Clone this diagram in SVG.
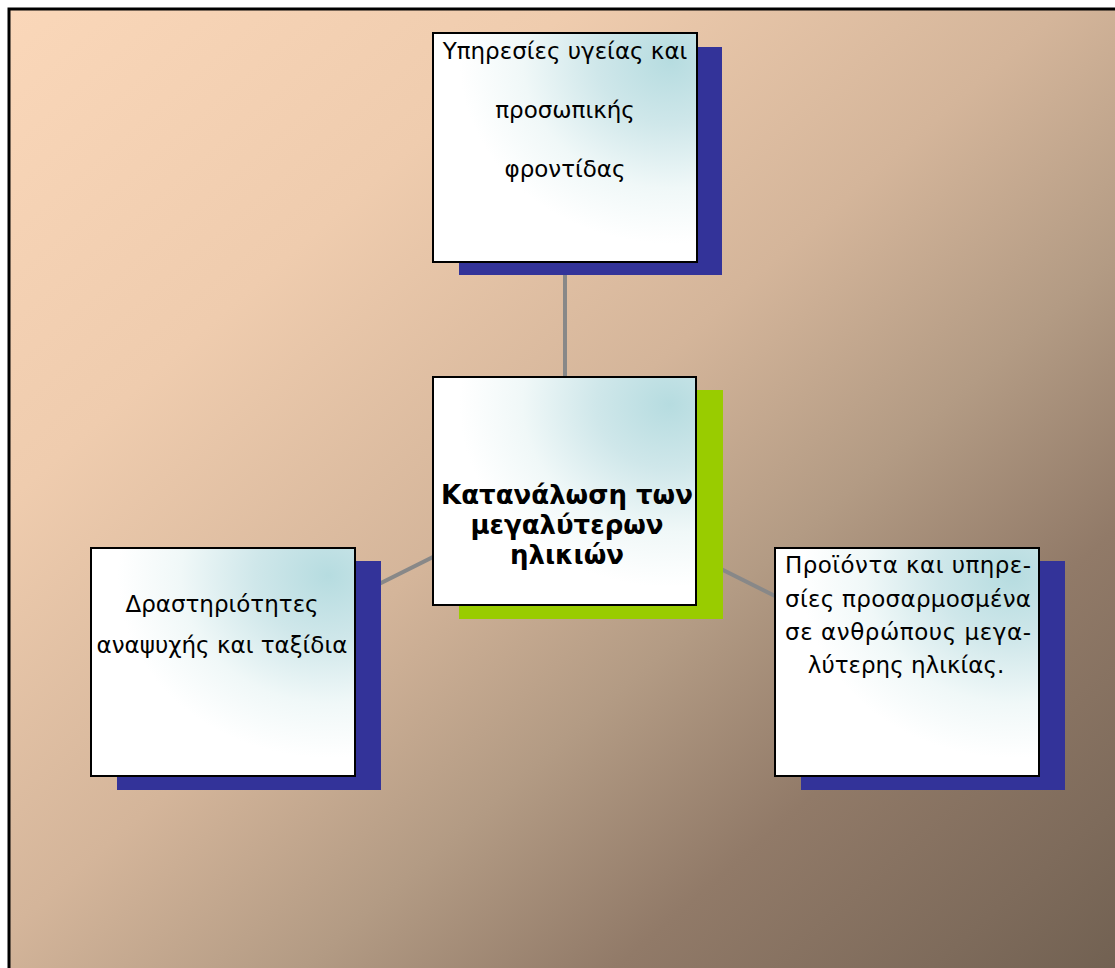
<svg xmlns="http://www.w3.org/2000/svg" width="1115" height="968" viewBox="0 0 1115 968">
<style>
.box{stroke:#000;stroke-width:2;fill:url(#boxg)}
.navy{fill:#333399}
.green{fill:#99CC00}
.conn{stroke:#888888;stroke-width:4;fill:none}
.t{font-family:"DejaVu Sans",Verdana,sans-serif;font-size:23px;fill:#000;text-anchor:middle}
.b{font-weight:bold;font-size:26px}
</style>
<defs>
<linearGradient id="bg" x1="0" y1="0" x2="1" y2="1">
<stop offset="0" stop-color="#FAD7B9"/>
<stop offset="0.25" stop-color="#EFCCAE"/>
<stop offset="0.47" stop-color="#D4B59A"/>
<stop offset="0.62" stop-color="#B39B84"/>
<stop offset="0.76" stop-color="#917A68"/>
<stop offset="0.9" stop-color="#7E6B5B"/>
<stop offset="1" stop-color="#6F5F50"/>
</linearGradient>
<radialGradient id="boxg" cx="0.9" cy="0.12" r="0.8">
<stop offset="0" stop-color="#B6DCE0"/>
<stop offset="0.35" stop-color="#CFE7EA"/>
<stop offset="0.7" stop-color="#F0F8F8"/>
<stop offset="1" stop-color="#FFFFFF"/>
</radialGradient>
</defs>
<rect x="0" y="0" width="1115" height="968" fill="#FFFFFF"/>
<rect x="9" y="9" width="1120" height="980" fill="url(#bg)" stroke="#000" stroke-width="3"/>
<g id="connectors">
<line class="conn" x1="565" y1="491" x2="565" y2="147"/>
<line class="conn" x1="565" y1="491" x2="223" y2="662"/>
<line class="conn" x1="565" y1="491" x2="907" y2="662"/>
</g>
<g id="node-top">
<rect class="navy" x="459" y="47" width="263" height="228"/>
<rect class="box" x="433" y="33" width="264" height="229"/>
<text class="t" x="565" y="59">Υπηρεσίες υγείας και</text>
<text class="t" x="565" y="118">προσωπικής</text>
<text class="t" x="565" y="177">φροντίδας</text>
</g>
<g id="node-center">
<rect class="green" x="459" y="390" width="264" height="229"/>
<rect class="box" x="433" y="377" width="263" height="228"/>
<text class="t b" x="567" y="504">Κατανάλωση των</text>
<text class="t b" x="567" y="534">μεγαλύτερων</text>
<text class="t b" x="567" y="564">ηλικιών</text>
</g>
<g id="node-left">
<rect class="navy" x="117" y="561" width="264" height="229"/>
<rect class="box" x="91" y="548" width="264" height="228"/>
<text class="t" x="222" y="612">Δραστηριότητες</text>
<text class="t" x="222" y="653">αναψυχής και ταξίδια</text>
</g>
<g id="node-right">
<rect class="navy" x="801" y="561" width="264" height="229"/>
<rect class="box" x="775" y="548" width="264" height="228"/>
<text class="t" x="908" y="573" textLength="246" lengthAdjust="spacing">Προϊόντα και υπηρε-</text>
<text class="t" x="908" y="607" textLength="246" lengthAdjust="spacing">σίες προσαρμοσμένα</text>
<text class="t" x="908" y="640" textLength="246" lengthAdjust="spacing">σε ανθρώπους μεγα-</text>
<text class="t" x="906" y="673">λύτερης ηλικίας.</text>
</g>
</svg>
